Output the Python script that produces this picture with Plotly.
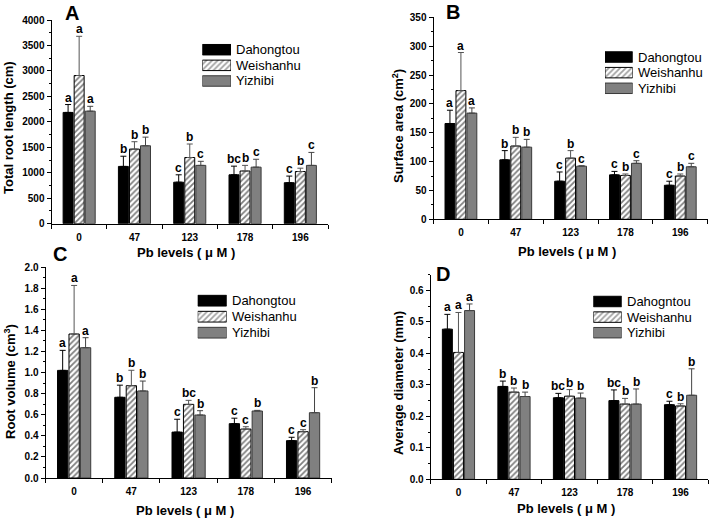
import plotly.graph_objects as go

W, H = 712, 521
FONT = "Liberation Sans, Arial, sans-serif"

# ---------------- data ----------------
categories = ["0", "47", "123", "178", "196"]
x_pos = list(range(len(categories)))
series_names = ["Dahongtou", "Weishanhu", "Yizhibi"]
series_names_D = ["Dahogntou", "Weishanhu", "Yizhibi"]

# Panel A: Total root length (cm)
A_dah = [2185, 1125, 815, 960, 805]
A_dah_sd = [155, 200, 145, 170, 130]
A_wei = [2910, 1465, 1300, 1035, 1025]
A_wei_sd = [770, 145, 265, 110, 65]
A_yiz = [2210, 1530, 1145, 1110, 1145]
A_yiz_sd = [95, 170, 80, 155, 255]
A_let_dah = ["a", "b", "c", "bc", "c"]
A_let_wei = ["a", "b", "b", "b", "b"]
A_let_yiz = ["a", "b", "c", "c", "c"]

# Panel B: Surface area (cm2)
B_dah = [166, 103, 66, 77, 59]
B_dah_sd = [23, 16, 16, 6, 7]
B_wei = [223, 127, 106, 76, 75]
B_wei_sd = [66, 15, 13, 2.5, 3.5]
B_yiz = [184, 125, 92, 97, 91]
B_yiz_sd = [9, 13.5, 0.8, 4.5, 6]
B_let_dah = ["a", "b", "c", "c", "c"]
B_let_wei = ["a", "b", "b", "b", "b"]
B_let_yiz = ["a", "b", "c", "c", "c"]

# Panel C: Root volume (cm3)
C_dah = [1.02, 0.765, 0.435, 0.515, 0.354]
C_dah_sd = [0.19, 0.115, 0.122, 0.052, 0.032]
C_wei = [1.365, 0.875, 0.698, 0.464, 0.439]
C_wei_sd = [0.46, 0.146, 0.038, 0.022, 0.019]
C_yiz = [1.235, 0.825, 0.597, 0.635, 0.619]
C_yiz_sd = [0.095, 0.094, 0.041, 0.006, 0.237]
C_let_dah = ["a", "b", "c", "c", "c"]
C_let_wei = ["a", "b", "bc", "c", "c"]
C_let_yiz = ["a", "b", "b", "b", "b"]

# Panel D: Average diameter (mm)
D_dah = [0.477, 0.295, 0.259, 0.250, 0.237]
D_dah_sd = [0.047, 0.017, 0.014, 0.034, 0.011]
D_wei = [0.403, 0.277, 0.264, 0.239, 0.233]
D_wei_sd = [0.127, 0.013, 0.021, 0.018, 0.007]
D_yiz = [0.536, 0.263, 0.258, 0.239, 0.267]
D_yiz_sd = [0.021, 0.014, 0.016, 0.048, 0.084]
D_let_dah = ["a", "b", "bc", "bc", "c"]
D_let_wei = ["a", "b", "b", "b", "b"]
D_let_yiz = ["a", "b", "b", "b", "b"]

# ---------------- styling helpers ----------------
def px_x(p):
    return p / W

def px_y(p):
    return 1 - p / H

STYLES = [
    dict(color="black", line="black", pattern="", err="black"),
    dict(color="white", line="black", pattern="/", err="#555555"),
    dict(color="#808080", line="#3a3a3a", pattern="", err="#444444"),
]
PAT = dict(fgcolor="black", bgcolor="white", size=4, solidity=0.45)

panels = [
    dict(key="", letter="A", title="Total root length (cm)",
         series=[(A_dah, A_dah_sd, A_let_dah), (A_wei, A_wei_sd, A_let_wei), (A_yiz, A_yiz_sd, A_let_yiz)],
         names=series_names, dom_x=(51.5, 328), dom_y=(20, 223.7), yr=[0, 4000], dtick=500, minor=250, fmt="d",
         letter_pos=(72, 13), ytitle_pos=(9, 128), xtitle_y=253,
         leg_x=(202.3, 231), leg_y=(41.9, 88.8)),
    dict(key="2", letter="B", title="Surface area (cm<sup>2</sup>)",
         series=[(B_dah, B_dah_sd, B_let_dah), (B_wei, B_wei_sd, B_let_wei), (B_yiz, B_yiz_sd, B_let_yiz)],
         names=series_names, dom_x=(433.5, 707.7), dom_y=(17.3, 219.3), yr=[0, 350], dtick=50, minor=25, fmt="d",
         letter_pos=(453, 12), ytitle_pos=(398, 126), xtitle_y=251,
         leg_x=(605, 632.7), leg_y=(49.2, 96.1)),
    dict(key="3", letter="C", title="Root volume (cm<sup>3</sup>)",
         series=[(C_dah, C_dah_sd, C_let_dah), (C_wei, C_wei_sd, C_let_wei), (C_yiz, C_yiz_sd, C_let_yiz)],
         names=series_names, dom_x=(45.5, 331.7), dom_y=(267, 478), yr=[0, 2.0], dtick=0.2, minor=0.1, fmt=".1f",
         letter_pos=(60, 254), ytitle_pos=(10, 382), xtitle_y=510,
         leg_x=(197.7, 226.7), leg_y=(292.7, 340.7)),
    dict(key="4", letter="D", title="Average diameter (mm)",
         series=[(D_dah, D_dah_sd, D_let_dah), (D_wei, D_wei_sd, D_let_wei), (D_yiz, D_yiz_sd, D_let_yiz)],
         names=series_names_D, dom_x=(430.7, 708.3), dom_y=(274.7, 479.3), yr=[0, 0.65], dtick=0.1, minor=0.05, fmt=".1f",
         letter_pos=(443, 274), ytitle_pos=(398, 383), xtitle_y=508,
         leg_x=(593.3, 621.7), leg_y=(293.7, 340.5)),
]

fig = go.Figure()
annotations = []
layout = {}
BAR_STEP = 0.2  # slot width of each bar within a group (bargap 0.4 -> group 0.6)

for pi, p in enumerate(panels):
    xa = "x" + p["key"]
    ya = "y" + p["key"]
    for k, (vals, sds, lets) in enumerate(p["series"]):
        st = STYLES[k]
        marker = dict(color=st["color"], line=dict(color=st["line"], width=1))
        if st["pattern"]:
            marker["pattern"] = dict(shape=st["pattern"], **PAT)
        fig.add_trace(go.Bar(
            x=x_pos, y=vals, name=p["names"][k], showlegend=False,
            xaxis=xa, yaxis=ya, marker=marker,
            error_y=dict(type="data", symmetric=False, array=sds, arrayminus=[0] * len(sds),
                         color=st["err"], thickness=1, width=3),
        ))
        for i, (v, s, t) in enumerate(zip(vals, sds, lets)):
            annotations.append(dict(
                x=x_pos[i] + (k - 1) * BAR_STEP, y=v + s, xref=xa, yref=ya,
                text=t, showarrow=False, yanchor="bottom", yshift=-2,
                font=dict(family=FONT, size=12, color="black", weight="bold")))

    axis_x = dict(
        domain=[px_x(p["dom_x"][0]), px_x(p["dom_x"][1])], anchor=ya,
        range=[-0.5, 4.5], tickmode="array", tickvals=x_pos, ticktext=categories,
        ticks="outside", ticklen=4, tickcolor="rgba(0,0,0,0)",
        showline=True, linecolor="black", linewidth=1, showgrid=False, zeroline=False,
        tickfont=dict(family=FONT, size=10, color="black", weight="bold"),
        minor=dict(tickmode="array", tickvals=[i - 0.5 for i in range(len(categories) + 1)],
                   ticks="outside", ticklen=4, tickcolor="black", showgrid=False),
        fixedrange=True, automargin=False,
    )
    axis_y = dict(
        domain=[px_y(p["dom_y"][1]), px_y(p["dom_y"][0])], anchor=xa,
        range=p["yr"], tick0=0, dtick=p["dtick"], tickformat=p["fmt"],
        ticks="outside", ticklen=4, tickcolor="black",
        showline=True, linecolor="black", linewidth=1, showgrid=False, zeroline=False,
        tickfont=dict(family=FONT, size=10, color="black", weight="bold"),
        minor=dict(tick0=0, dtick=p["minor"], ticks="outside", ticklen=2, tickcolor="black", showgrid=False),
        fixedrange=True, automargin=False,
    )
    layout["xaxis" + p["key"]] = axis_x
    layout["yaxis" + p["key"]] = axis_y

    # panel letter
    annotations.append(dict(x=px_x(p["letter_pos"][0]), y=px_y(p["letter_pos"][1]), xref="paper", yref="paper",
                            text=p["letter"], showarrow=False, xanchor="center", yanchor="middle",
                            font=dict(family=FONT, size=20, color="black", weight="bold")))
    # y title
    annotations.append(dict(x=px_x(p["ytitle_pos"][0]), y=px_y(p["ytitle_pos"][1]), xref="paper", yref="paper",
                            text=p["title"], showarrow=False, textangle=-90, xanchor="center", yanchor="middle",
                            font=dict(family=FONT, size=13, color="black", weight="bold")))
    # x title
    xc = (p["dom_x"][0] + p["dom_x"][1]) / 2 - 4
    annotations.append(dict(x=px_x(xc), y=px_y(p["xtitle_y"]), xref="paper", yref="paper",
                            text="Pb levels ( μ M )", showarrow=False, xanchor="center", yanchor="middle",
                            font=dict(family=FONT, size=13, color="black", weight="bold")))

    # legend boxes drawn as horizontal bars on a hidden mini axis
    lk = str(5 + pi)
    lxa, lya = "x" + lk, "y" + lk
    leg_rows = [2, 1, 0]
    fig.add_trace(go.Bar(
        y=leg_rows, x=[1, 1, 1], orientation="h", xaxis=lxa, yaxis=lya, width=0.67,
        showlegend=False, hoverinfo="skip",
        marker=dict(color=[s["color"] for s in STYLES],
                    line=dict(color=[s["line"] for s in STYLES], width=1),
                    pattern=dict(shape=[s["pattern"] for s in STYLES], **PAT)),
    ))
    layout["xaxis" + lk] = dict(domain=[px_x(p["leg_x"][0]), px_x(p["leg_x"][1])], anchor=lya,
                                range=[0, 1], visible=False, fixedrange=True)
    layout["yaxis" + lk] = dict(domain=[px_y(p["leg_y"][1]), px_y(p["leg_y"][0])], anchor=lxa,
                                range=[-0.5, 2.5], visible=False, fixedrange=True)
    y_top, y_bot = p["leg_y"]
    pitch = (y_bot - y_top) / 3
    for r, nm in enumerate(p["names"]):
        annotations.append(dict(x=px_x(p["leg_x"][1] + 3), y=px_y(y_top + pitch * (r + 0.5)),
                                xref="paper", yref="paper", text=nm, showarrow=False,
                                xanchor="left", yanchor="middle",
                                font=dict(family=FONT, size=13, color="black")))

fig.update_layout(
    width=W, height=H, margin=dict(l=0, r=0, t=0, b=0, autoexpand=False),
    paper_bgcolor="white", plot_bgcolor="white",
    barmode="group", bargap=0.4, bargroupgap=0.1,
    showlegend=False, annotations=annotations,
    font=dict(family=FONT, color="black"),
    **layout,
)

# the page body has a default 8px margin; remove it so the figure fills the window exactly
fig.write_html("out.html", config={"displayModeBar": False},
               post_script="document.body.style.margin='0';document.body.style.padding='0';")
